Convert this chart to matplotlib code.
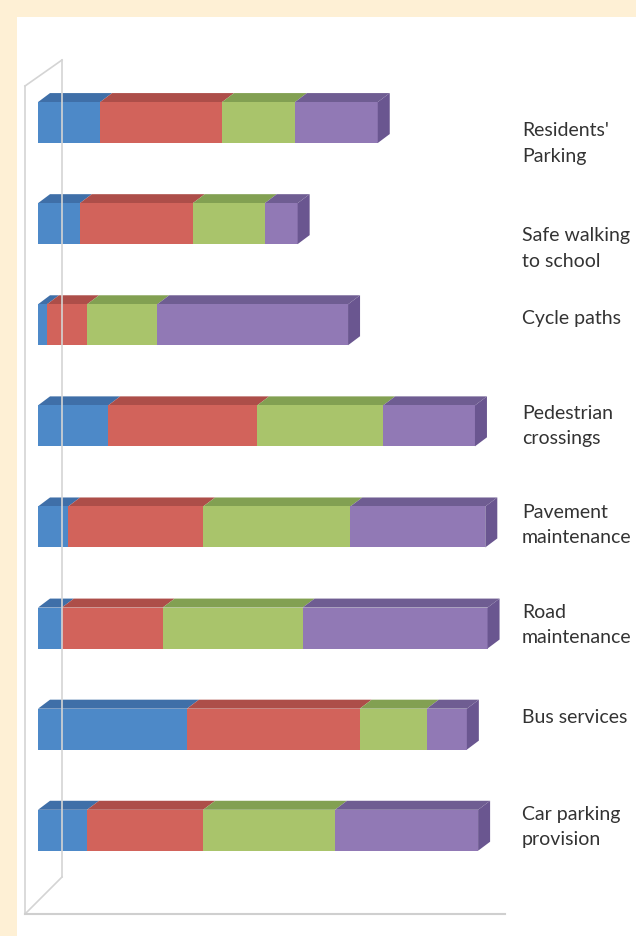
import numpy as np
import matplotlib.pyplot as plt
from matplotlib.patches import Polygon, Rectangle
from matplotlib.lines import Line2D

categories = ["Residents'\nParking", "Safe walking\nto school", "Cycle paths",
              "Pedestrian\ncrossings", "Pavement\nmaintenance", "Road\nmaintenance",
              "Bus services", "Car parking\nprovision"]
blue = [13.8, 9.3, 2.0, 15.6, 6.7, 5.3, 33.1, 10.9]
red = [27.1, 25.1, 8.9, 33.1, 30.0, 22.4, 38.4, 25.8]
green = [16.2, 16.0, 15.6, 28.0, 32.7, 31.1, 14.9, 29.3]
purple = [18.4, 7.3, 42.4, 20.4, 30.0, 41.1, 8.9, 31.8]

series = [blue, red, green, purple]
front = ['#4d89c8', '#d2635b', '#a9c46b', '#9179b5']
top = ['#3f6fa8', '#ad4e49', '#82a052', '#6f5d92']
side = '#6a5690'

W, H = 636, 936
fig = plt.figure(figsize=(W / 100, H / 100), dpi=100)
fig.patch.set_facecolor('#fef0d5')
fig.add_artist(Rectangle((17 / W, 0), 1, 1 - 17 / H, transform=fig.transFigure,
                         facecolor='white', edgecolor='none', zorder=0))


def px_line(xs, ys, **kw):
    fig.add_artist(Line2D([x / W for x in xs], [1 - y / H for y in ys],
                          transform=fig.transFigure, **kw))


# walls / floor of the 3d frame
wall = dict(color='#d4d4d4', lw=1.2, zorder=1)
px_line([25, 25], [86, 914], **wall)
px_line([62, 62], [60, 877], **wall)
px_line([25, 62], [86, 60], **wall)
px_line([25, 62], [914, 877], **wall)
px_line([25, 505], [914, 914], color='#cfcfcf', lw=1.5, zorder=1)

# plot area: x in value units, y in category index (top to bottom)
top_px, bot_px = 72.0, 880.8
ax = fig.add_axes([38 / W, 1 - bot_px / H, 450 / W, (bot_px - top_px) / H])
ax.set_xlim(0, 100)
ax.set_ylim(7.5, -0.5)
ax.axis('off')
ax.patch.set_alpha(0)

n = len(categories)
y = np.arange(n)
h = 0.405
px_per_x = 450 / 100
px_per_y = (bot_px - top_px) / 8
dx = 12 / px_per_x
dy = 9 / px_per_y

left = np.zeros(n)
for vals, fc, tc in zip(series, front, top):
    vals = np.array(vals)
    ax.barh(y, vals, left=left, height=h, color=fc, edgecolor='none', zorder=3,
            clip_on=False)
    for i in range(n):
        l, r, t = left[i], left[i] + vals[i], y[i] - h / 2
        ax.add_patch(Polygon([(l, t), (r, t), (r + dx, t - dy), (l + dx, t - dy)],
                             closed=True, facecolor=tc, edgecolor='none', zorder=2,
                             clip_on=False))
    left = left + vals

for i in range(n):
    r, t, b = left[i], y[i] - h / 2, y[i] + h / 2
    ax.add_patch(Polygon([(r, t), (r + dx, t - dy), (r + dx, b - dy), (r, b)],
                         closed=True, facecolor=side, edgecolor='none', zorder=4,
                         clip_on=False))

# category labels on the right
label_dy = [21, 25, -6, 0, -2, -3, -12, -3]
for i, lab in enumerate(categories):
    yc = 122.5 + px_per_y * i + label_dy[i]
    fig.text(522 / W, 1 - yc / H, lab, ha='left', va='center', fontsize=14,
             family='Lato', color='#333333', linespacing=1.6)

fig.savefig('out.png', dpi=100, facecolor=fig.get_facecolor())
